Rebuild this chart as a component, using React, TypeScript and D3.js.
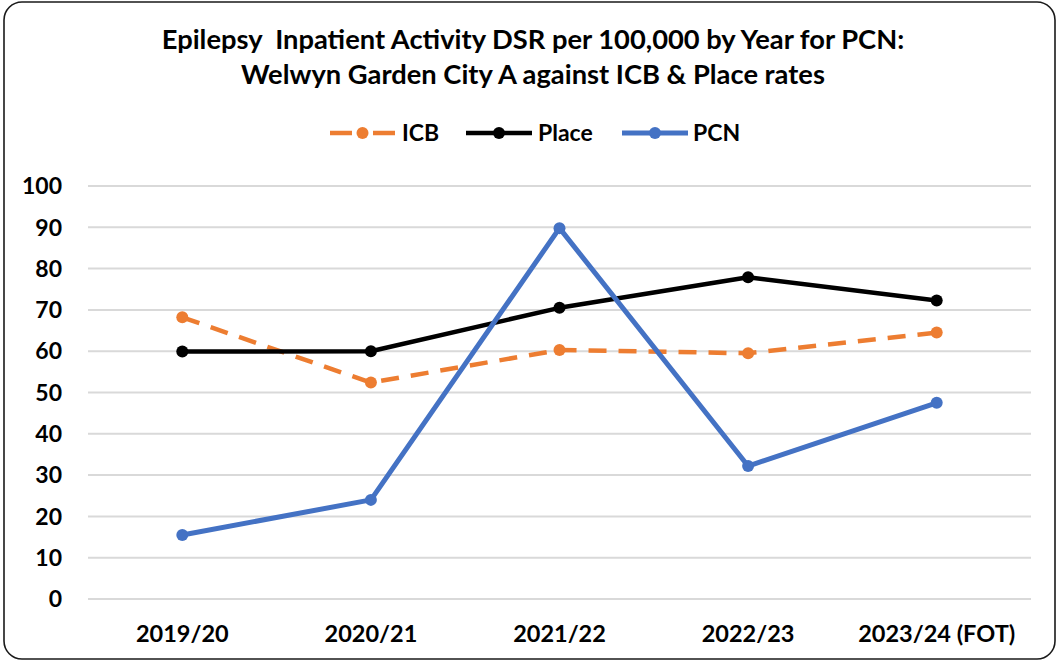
import React from 'react';
import * as d3 from 'd3';

const years = ['2019/20', '2020/21', '2021/22', '2022/23', '2023/24 (FOT)'];
const icbValues = [68.2, 52.4, 60.3, 59.5, 64.5];
const placeValues = [59.9, 60.0, 70.5, 77.9, 72.3];
const pcnValues = [15.5, 24.0, 89.8, 32.2, 47.5];
const yTicks = [0, 10, 20, 30, 40, 50, 60, 70, 80, 90, 100];
const titleLines = [
  'Epilepsy  Inpatient Activity DSR per 100,000 by Year for PCN:',
  'Welwyn Garden City A against ICB & Place rates',
];

const W = 1058;
const H = 663;
const FONT = "Lato, 'Open Sans', sans-serif";

const series = [
  { name: 'ICB', values: icbValues, color: '#ED7D31', dash: '18,12', width: 4.5 },
  { name: 'Place', values: placeValues, color: '#000000', dash: null, width: 4.5 },
  { name: 'PCN', values: pcnValues, color: '#4472C4', dash: null, width: 5 },
];

// legend positions (line start x, line end x, text start x)
const legendItems = [
  { x1: 330, x2: 395, tx: 402 },
  { x1: 466, x2: 532, tx: 538 },
  { x1: 622, x2: 688, tx: 693 },
];

export default function App() {
  const x = d3.scaleBand<string>().domain(years).range([88, 1031]);
  const y = d3.scaleLinear().domain([0, 100]).range([599, 186]);
  const cx = (i: number) => (x(years[i]) || 0) + x.bandwidth() / 2;

  const line = d3
    .line<number>()
    .x((_, i) => cx(i))
    .y((d) => y(d));

  return (
    <div style={{ position: 'absolute', left: 0, top: 0 }}>
      <svg width={W} height={H} style={{ display: 'block', fontFamily: FONT }}>
        <rect x={0} y={0} width={W} height={H} fill="#fff" />
        <rect x={4} y={2} width={1051} height={657} rx={18} ry={18}
          fill="#fff" stroke="#1a1a1a" strokeWidth={1.6} />

        {titleLines.map((t, i) => (
          <text key={i} x={533} y={49 + i * 35} textAnchor="middle" style={{ whiteSpace: 'pre' }}
            fontSize={27.3} fontWeight="bold" fill="#000">{t}</text>
        ))}

        {/* gridlines + y labels */}
        {yTicks.map((t) => (
          <g key={t}>
            <line x1={88} x2={1031} y1={y(t)} y2={y(t)} stroke="#d9d9d9" strokeWidth={2} />
            <text x={62} y={y(t)} dy="0.36em" textAnchor="end" fontSize={23}
              fontWeight="bold" fill="#000">{t}</text>
          </g>
        ))}

        {years.map((yr, i) => (
          <text key={yr} x={cx(i)} y={642} textAnchor="middle"
            fontSize={23.5} fontWeight="bold" fill="#000">{yr}</text>
        ))}

        {/* series */}
        {series.map((s) => (
          <g key={s.name}>
            <path d={line(s.values) || ''} fill="none" stroke={s.color} strokeWidth={s.width}
              strokeDasharray={s.dash || undefined} strokeLinejoin="round" />
            {s.values.map((v, i) => (
              <circle key={i} cx={cx(i)} cy={y(v)} r={6} fill={s.color} />
            ))}
          </g>
        ))}

        {/* legend */}
        {series.map((s, i) => {
          const L = legendItems[i];
          return (
            <g key={s.name}>
              <line x1={L.x1} x2={L.x2} y1={133} y2={133} stroke={s.color} strokeWidth={s.width}
                strokeDasharray={s.dash ? '22,21' : undefined} />
              <circle cx={(L.x1 + L.x2) / 2} cy={133} r={6} fill={s.color} />
              <text x={L.tx} y={133} dy="0.36em" fontSize={23} fontWeight="bold" fill="#000">
                {s.name}
              </text>
            </g>
          );
        })}
      </svg>
    </div>
  );
}
